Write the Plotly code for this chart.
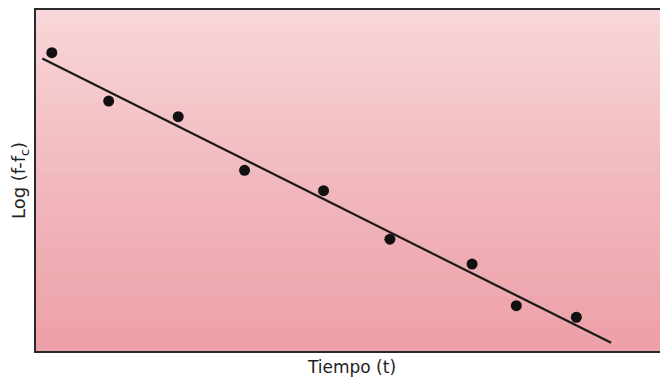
import plotly.graph_objects as go

# Data (arbitrary units, no ticks shown)
tiempo = [0.25, 1.15, 2.25, 3.3, 4.55, 5.6, 6.9, 7.6, 8.55]
log_f = [8.75, 7.33, 6.87, 5.30, 4.70, 3.28, 2.55, 1.33, 0.99]
fit_x = [0.1, 9.1]
fit_y = [8.58, 0.24]

x_title = "Tiempo (t)"
y_title = "Log (f-f<sub>c</sub>)"

fig = go.Figure()
fig.add_trace(go.Scatter(x=fit_x, y=fit_y, mode="lines",
                         line=dict(color="#1a1a1a", width=2.2), hoverinfo="skip"))
fig.add_trace(go.Scatter(x=tiempo, y=log_f, mode="markers",
                         marker=dict(color="#111111", size=11)))

# vertical pink gradient background
def lerp(c1, c2, t):
    return tuple(round(a + (b - a) * t) for a, b in zip(c1, c2))

top = (248, 214, 217)
mid = (241, 184, 190)
bot = (237, 160, 167)
n = 60
shapes = []
for i in range(n):
    t = i / (n - 1)
    if t < 0.5:
        c = lerp(top, mid, t / 0.5)
    else:
        c = lerp(mid, bot, (t - 0.5) / 0.5)
    shapes.append(dict(type="rect", xref="x domain", yref="y domain",
                       x0=0, x1=1, y1=1 - i / n, y0=1 - (i + 1) / n - 0.002,
                       fillcolor="rgb(%d,%d,%d)" % c, line=dict(width=0),
                       layer="below"))

fig.update_layout(
    width=660, height=374,
    margin=dict(l=28, r=0, t=0, b=31, pad=0),
    paper_bgcolor="white", plot_bgcolor="white",
    showlegend=False,
    shapes=shapes,
    font=dict(family="DejaVu Sans", color="#222222"),
    xaxis=dict(range=[0, 10], showticklabels=False, ticks="", showgrid=False,
               zeroline=False, showline=True, linecolor="#2a2a2a", linewidth=2,
               mirror=True,
               title=dict(text=x_title, font=dict(size=17), standoff=9)),
    yaxis=dict(range=[0, 10], showticklabels=False, ticks="", showgrid=False,
               zeroline=False, showline=True, linecolor="#2a2a2a", linewidth=2,
               title=dict(text=y_title, font=dict(size=18), standoff=11)),
)

fig.write_html("out.html")
